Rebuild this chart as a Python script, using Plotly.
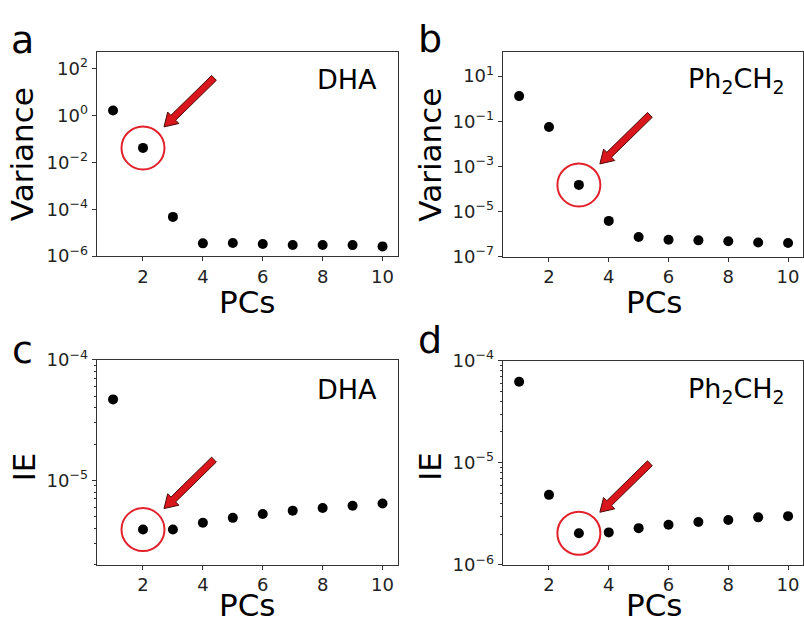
import numpy as np
import plotly.graph_objects as go

# ---- data -------------------------------------------------------------
pcs = list(range(1, 11))

dha_variance = [1.6, 0.041, 4.7e-5, 3.5e-6, 3.6e-6, 3.3e-6, 3.0e-6, 3.0e-6, 2.95e-6, 2.6e-6]
ph2ch2_variance = [1.3, 0.055, 1.5e-4, 3.8e-6, 7.4e-7, 5.5e-7, 5.2e-7, 4.8e-7, 4.2e-7, 4.0e-7]
dha_ie = [4.7e-5, 3.9e-6, 3.9e-6, 4.45e-6, 4.88e-6, 5.25e-6, 5.6e-6, 5.9e-6, 6.16e-6, 6.43e-6]
ph2ch2_ie = [6.2e-5, 4.85e-6, 2.04e-6, 2.08e-6, 2.29e-6, 2.47e-6, 2.63e-6, 2.75e-6, 2.92e-6, 3.0e-6]

# chosen number of PCs per panel (circled)
chosen_pc = {"a": 2, "b": 3, "c": 2, "d": 3}

x_tickvals = [2, 4, 6, 8, 10]
y_tick_exps = {
    "a": [2, 0, -2, -4, -6],
    "b": [1, -1, -3, -5, -7],
    "c": [-4, -5],
    "d": [-4, -5, -6],
}
panel_letters = ["a", "b", "c", "d"]
molecules = {"a": "DHA", "b": "Ph<sub>2</sub>CH<sub>2</sub>",
             "c": "DHA", "d": "Ph<sub>2</sub>CH<sub>2</sub>"}
y_titles = {"a": "Variance", "b": "Variance", "c": "IE", "d": "IE"}
series = {"a": dha_variance, "b": ph2ch2_variance, "c": dha_ie, "d": ph2ch2_ie}

# ---- layout helpers ---------------------------------------------------
W, H = 804, 633
FONT = "DejaVu Sans"
AXIS_COLOR = "#333333"
RED = "#e2212b"


def px(x):
    return x / W


def py(y):
    return 1 - y / H


# plot areas in pixels: (left, right, top, bottom)
boxes = {
    "a": (96.7, 398.0, 40.7, 252.3),
    "b": (503.3, 804.0, 40.7, 252.7),
    "c": (96.7, 398.0, 360.0, 572.3),
    "d": (503.3, 804.0, 360.7, 572.7),
}
y_ranges = {"a": [-6, 2.69], "b": [-7, 2.06], "c": [np.log10(2e-6), -4], "d": [-6, -4]}
x_range = [0.45, 10.5]


def sup_label(e):
    return "10<sup>" + str(e).replace("-", "\u2212") + "</sup>"


def arrow_path(tail, tip, shaft_hw=3.4, head_hw=8.0, head_len=13.0):
    t = np.array(tail, float)
    p = np.array(tip, float)
    u = (p - t) / np.linalg.norm(p - t)
    n = np.array([-u[1], u[0]])
    b = p - u * head_len
    pts = [t + n * shaft_hw, b + n * shaft_hw, b + n * head_hw, p,
           b - n * head_hw, b - n * shaft_hw, t - n * shaft_hw]
    return "M " + " L ".join(f"{q[0]:.2f},{q[1]:.2f}" for q in pts) + " Z"


fig = go.Figure()
shapes = []
annotations = []

for i, key in enumerate(panel_letters):
    idx = "" if i == 0 else str(i + 1)
    xa, ya = "x" + idx, "y" + idx
    left, right, top, bottom = boxes[key]
    vals = series[key]

    fig.add_trace(go.Scatter(
        x=pcs, y=vals, mode="markers", xaxis=xa, yaxis=ya,
        marker=dict(color="black", size=10), showlegend=False, hoverinfo="skip"))

    sel = chosen_pc[key]
    sel_val = vals[pcs.index(sel)]
    fig.add_trace(go.Scatter(
        x=[sel], y=[sel_val], mode="markers", xaxis=xa, yaxis=ya,
        marker=dict(symbol="circle-open", size=43, color=RED,
                    line=dict(color=RED, width=2)),
        showlegend=False, hoverinfo="skip"))

    # arrow pointing at the circled component (offsets in pixels, y up)
    shapes.append(dict(
        type="path", xref=xa, yref=ya, xsizemode="pixel", ysizemode="pixel",
        xanchor=sel, yanchor=sel_val,
        path=arrow_path((71, 70), (21, 21)),
        fillcolor="#d8161b", line=dict(color="#4a0a0a", width=1), layer="above"))

    exps = y_tick_exps[key]
    yaxis = dict(
        type="log", domain=[py(bottom), py(top)], range=y_ranges[key], anchor=xa,
        tickmode="array", tickvals=[10.0 ** e for e in exps],
        ticktext=[sup_label(e) for e in exps],
        ticks="outside", ticklen=4, tickcolor=AXIS_COLOR, tickwidth=1,
        showline=True, linecolor=AXIS_COLOR, linewidth=1, mirror=True,
        showgrid=False, zeroline=False,
        tickfont=dict(family=FONT, size=18, color="#222"))
    if key in ("c", "d"):
        lo = int(np.floor(y_ranges[key][0]))
        minor_vals = [k * 10.0 ** e for e in range(lo, -4) for k in range(2, 10)]
        yaxis["minor"] = dict(tickmode="array", tickvals=minor_vals, ticks="outside",
                              ticklen=2, tickcolor=AXIS_COLOR, tickwidth=1, showgrid=False)
    xaxis = dict(
        domain=[px(left), px(right)], range=x_range, anchor=ya,
        tickmode="array", tickvals=x_tickvals,
        ticks="outside", ticklen=4, tickcolor=AXIS_COLOR, tickwidth=1,
        showline=True, linecolor=AXIS_COLOR, linewidth=1, mirror=True,
        showgrid=False, zeroline=False,
        tickfont=dict(family=FONT, size=18, color="#222"))
    fig.layout["xaxis" + idx] = xaxis
    fig.layout["yaxis" + idx] = yaxis

# ---- text -------------------------------------------------------------
text_pos = {
    # letter center, y-title center, x-title center, molecule (right edge, center y)
    "a": dict(letter=(23, 27.5), ytitle=(22, 146.5), xtitle=(247.5, 299.5), mol=(379, 69.5)),
    "b": dict(letter=(431, 26.5), ytitle=(431, 146.5), xtitle=(655, 299.5), mol=(788, 70.5)),
    "c": dict(letter=(23, 350), ytitle=(24, 470.5), xtitle=(247.5, 614.5), mol=(379, 391)),
    "d": dict(letter=(431, 339), ytitle=(431, 470.5), xtitle=(655, 614.5), mol=(788, 392)),
}

for key in panel_letters:
    tp = text_pos[key]
    annotations.append(dict(
        text=key, x=px(tp["letter"][0]), y=py(tp["letter"][1]), xref="paper", yref="paper",
        xanchor="center", yanchor="middle", showarrow=False,
        font=dict(family=FONT, size=38, color="black")))
    annotations.append(dict(
        text=y_titles[key], x=px(tp["ytitle"][0]), y=py(tp["ytitle"][1]),
        xref="paper", yref="paper", xanchor="center", yanchor="middle",
        textangle=-90, showarrow=False, font=dict(family=FONT, size=31, color="black")))
    annotations.append(dict(
        text="PCs", x=px(tp["xtitle"][0]), y=py(tp["xtitle"][1]), xref="paper", yref="paper",
        xanchor="center", yanchor="middle", showarrow=False,
        font=dict(family=FONT, size=31, color="black")))
    annotations.append(dict(
        text=molecules[key], x=px(tp["mol"][0]), y=py(tp["mol"][1]), xref="paper", yref="paper",
        xanchor="right", yanchor="middle", showarrow=False,
        font=dict(family=FONT, size=27, color="black")))

fig.update_layout(
    width=W, height=H, margin=dict(l=0, r=0, t=0, b=0),
    paper_bgcolor="white", plot_bgcolor="white",
    font=dict(family=FONT, color="black"),
    shapes=shapes, annotations=annotations, showlegend=False)

fig.write_html("out.html")
